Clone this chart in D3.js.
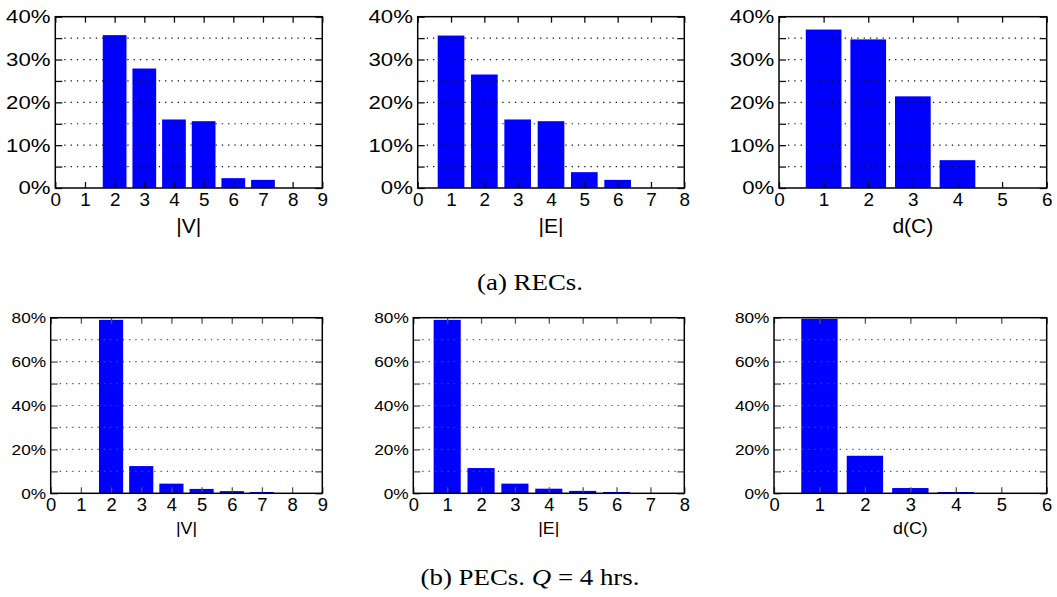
<!DOCTYPE html>
<html>
<head>
<meta charset="utf-8">
<script src="https://cdn.jsdelivr.net/npm/d3@7"></script>
<style>
  body { margin: 0; background: #fff; }
  svg { display: block; }
  .tick text { font-family: "Liberation Sans", Arial, sans-serif; fill: #000; }
  .cap { font-family: "Liberation Serif", "Times New Roman", serif; fill: #000; }
</style>
</head>
<body>
<svg id="chart"></svg>
<script>
// values, in percent
const vCats = [2, 3, 4, 5, 6, 7];
const eCats = [1, 2, 3, 4, 5, 6];
const dCats = [1, 2, 3, 4];

const recV = [35.7, 27.9, 16.0, 15.6, 2.3, 1.9];
const recE = [35.6, 26.5, 16.0, 15.6, 3.7, 1.9];
const recD = [37.0, 34.7, 21.4, 6.5];

const pecV = [79.0, 12.4, 4.4, 2.0, 1.0, 0.6];
const pecE = [79.0, 11.5, 4.4, 2.1, 1.1, 0.6];
const pecD = [79.5, 17.1, 2.4, 0.6];

const xMaxV = 9, xMaxE = 8, xMaxD = 6;
const recTicks = [0, 10, 20, 30, 40];
const pecTicks = [0, 20, 40, 60, 80];

const captionA = "(a) RECs.";
const captionB = ["(b) PECs. ", "Q", " = 4 hrs."];

const width = 1057, height = 597;
const svg = d3.select("#chart").attr("width", width).attr("height", height);

function panel(cfg) {
    const x = d3.scaleLinear().domain([0, cfg.xMax]).range([cfg.left, cfg.right]);
    const y = d3.scaleLinear().domain([0, d3.max(cfg.yTicks)]).range([cfg.bottom, cfg.top]);
    const step = cfg.yTicks[1] - cfg.yTicks[0];
    const minor = d3.range(0, d3.max(cfg.yTicks) + step / 4, step / 2);
    const g = svg.append("g");

    // bars
    g.selectAll("rect.bar")
        .data(cfg.cats.map((c, i) => ({c: c, v: cfg.vals[i]})))
        .enter().append("rect")
        .attr("class", "bar")
        .attr("x", d => x(d.c - 0.4))
        .attr("width", d => x(d.c + 0.4) - x(d.c - 0.4))
        .attr("y", d => y(d.v))
        .attr("height", d => y(0) - y(d.v))
        .attr("fill", "#0000ff");

    // dotted grid
    g.selectAll("line.grid")
        .data(minor.filter(t => t > 0 && t < d3.max(cfg.yTicks)))
        .enter().append("line")
        .attr("class", "grid")
        .attr("x1", cfg.left + 9).attr("x2", cfg.right - 6)
        .attr("y1", d => y(d)).attr("y2", d => y(d))
        .attr("stroke", cfg.gridColor)
        .attr("stroke-width", 1.2)
        .attr("stroke-dasharray", "1.3,5");

    // x axis
    const xb = g.append("g")
        .attr("transform", "translate(0," + cfg.bottom + ")")
        .call(d3.axisBottom(x).ticks(cfg.xMax).tickSizeInner(-6).tickSizeOuter(0).tickPadding(5));
    xb.selectAll("text").style("font-size", cfg.xFont + "px")
        .attr("transform", "scale(" + cfg.xStretch + ",1)");

    g.append("g")
        .attr("transform", "translate(0," + cfg.top + ")")
        .call(d3.axisTop(x).ticks(cfg.xMax).tickSizeInner(-6).tickSizeOuter(0).tickFormat(""));

    const yl = g.append("g")
        .attr("transform", "translate(" + cfg.left + ",0)")
        .call(d3.axisLeft(y).tickValues(minor).tickSizeInner(-7).tickSizeOuter(0).tickPadding(4)
            .tickFormat(d => cfg.yTicks.includes(d) ? d + "%" : ""));
    yl.selectAll("text").style("font-size", cfg.yFont + "px")
        .attr("transform", "scale(" + cfg.yStretch + ",1)");

    g.append("g")
        .attr("transform", "translate(" + cfg.right + ",0)")
        .call(d3.axisRight(y).tickValues(minor).tickSizeInner(-7).tickSizeOuter(0).tickFormat(""));

    g.selectAll(".domain").remove();
    g.selectAll(".tick line").attr("stroke", cfg.gridColor).attr("stroke-width", 1.3);

    // frame
    g.append("rect")
        .attr("x", cfg.left).attr("y", cfg.top)
        .attr("width", cfg.right - cfg.left).attr("height", cfg.bottom - cfg.top)
        .attr("fill", "none").attr("stroke", "#000").attr("stroke-width", 1.5);

    // axis title
    g.append("text")
        .attr("transform", "translate(" + (cfg.left + cfg.right) / 2 + "," + cfg.titleY + ") scale(1.08,1)")
        .attr("text-anchor", "middle")
        .style("font-family", "'Liberation Sans', Arial, sans-serif")
        .style("font-size", cfg.titleFont + "px")
        .text(cfg.title);
}

const topRow = {top: 16.7, bottom: 188, yTicks: recTicks, gridColor: "#111",
    xFont: 18, xStretch: 1.05, yFont: 18.5, yStretch: 1.2, titleFont: 19.5, titleY: 233};
const botRow = {top: 317.7, bottom: 493.3, yTicks: pecTicks, gridColor: "#555",
    xFont: 17.5, xStretch: 1.05, yFont: 15, yStretch: 1.15, titleFont: 16.5, titleY: 534};

panel(Object.assign({}, topRow, {left: 55.3, right: 322.3, xMax: xMaxV, cats: vCats, vals: recV, title: "|V|"}));
panel(Object.assign({}, topRow, {left: 417.7, right: 684.3, xMax: xMaxE, cats: eCats, vals: recE, title: "|E|"}));
panel(Object.assign({}, topRow, {left: 779, right: 1046.7, xMax: xMaxD, cats: dCats, vals: recD, title: "d(C)"}));

panel(Object.assign({}, botRow, {left: 50.7, right: 322.3, xMax: xMaxV, cats: vCats, vals: pecV, title: "|V|"}));
panel(Object.assign({}, botRow, {left: 413.3, right: 684.3, xMax: xMaxE, cats: eCats, vals: pecE, title: "|E|"}));
panel(Object.assign({}, botRow, {left: 774, right: 1046.7, xMax: xMaxD, cats: dCats, vals: pecD, title: "d(C)"}));

// captions
svg.append("text")
    .attr("class", "cap")
    .attr("transform", "translate(530,290) scale(1.12,1)")
    .attr("text-anchor", "middle")
    .style("font-size", "24px")
    .text(captionA);

const cb = svg.append("text")
    .attr("class", "cap")
    .attr("transform", "translate(530,585) scale(1.12,1)")
    .attr("text-anchor", "middle")
    .style("font-size", "24px")
    .attr("xml:space", "preserve");
cb.append("tspan").text(captionB[0]);
cb.append("tspan").style("font-style", "italic").text(captionB[1]);
cb.append("tspan").text(captionB[2]);
</script>
</body>
</html>
